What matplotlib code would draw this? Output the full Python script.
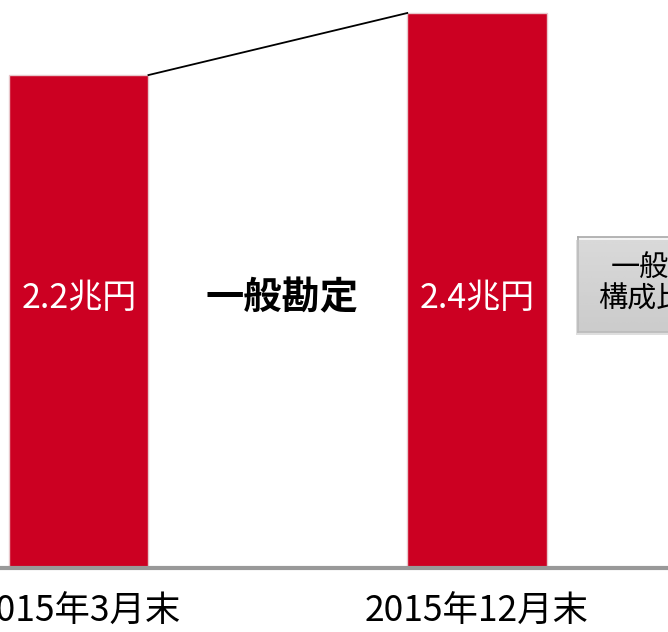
import matplotlib
matplotlib.use("Agg")
import matplotlib.pyplot as plt
import numpy as np
from matplotlib.patches import Rectangle

plt.rcParams['font.family'] = ['Noto Sans CJK JP', 'DejaVu Sans']

# data
periods = ["2015年3月末", "2015年12月末"]
values = [2.2, 2.4]
value_labels = ["2.2兆円", "2.4兆円"]
account_label = "一般勘定"
box_lines = ["一般勘定", "構成比率"]

bar_color = "#cc0022"

fig = plt.figure(figsize=(6.68, 6.32), dpi=100)
ax = fig.add_axes([0, 0.101, 1, 0.899])

x = np.arange(len(values))
bars = ax.bar(x, values, width=0.35, color=bar_color, edgecolor="#e8c8cc",
              linewidth=1.0, zorder=2)

# connector line between bar tops
ax.plot([x[0] + 0.175, x[1] - 0.175], [values[0], values[1]],
        color="black", lw=1.3, zorder=3)

ax.set_xlim(-0.198, 1.48)
ax.set_ylim(0.61, 2.442)

label_y = 1.48
for xi, lbl in zip(x, value_labels):
    ax.text(xi, label_y, lbl, color="white", fontsize=24.5, ha="center", va="center")

ax.text(0.51, label_y, account_label, fontsize=27.5, fontweight="bold",
        ha="center", va="center")

for s in ax.spines.values():
    s.set_visible(False)
ax.axhline(0.61, color="#999999", lw=3, zorder=4, clip_on=False)
ax.set_xticks([])
ax.set_yticks([])

# period labels
for xi, p in zip(x, periods):
    ax.text(xi, 0.61 - 44 / 310, p, fontsize=25.5, ha="center", va="center",
            clip_on=False)

# gray gradient box on the right (clipped by figure edge)
W, H = 668, 632
bx0, by0, bx1, by1 = 578, H - 332, 700, H - 237
shadow = Rectangle((bx0 - 2, by0 - 3), bx1 - bx0, by1 - by0,
                   transform=None, facecolor="#c8c8c8", edgecolor="none",
                   alpha=0.6, zorder=1)
fig.patches.append(shadow)
grad = np.linspace(0.96, 0.82, 100).reshape(-1, 1)
grad = np.repeat(grad, 2, axis=1)
img_ax = fig.add_axes([bx0 / W, by0 / H, (bx1 - bx0) / W, (by1 - by0) / H])
img_ax.imshow(grad, cmap="gray", vmin=0, vmax=1, aspect="auto",
              extent=[0, 1, 0, 1])
img_ax.set_xticks([])
img_ax.set_yticks([])
for s in img_ax.spines.values():
    s.set_color("#a8a8a8")
    s.set_linewidth(1.2)
fig.text(611 / W, 1 - 268 / H, box_lines[0], fontsize=21, ha="left", va="center")
fig.text(598 / W, 1 - 300 / H, box_lines[1], fontsize=21, ha="left", va="center")

fig.savefig("out.png", dpi=100)
